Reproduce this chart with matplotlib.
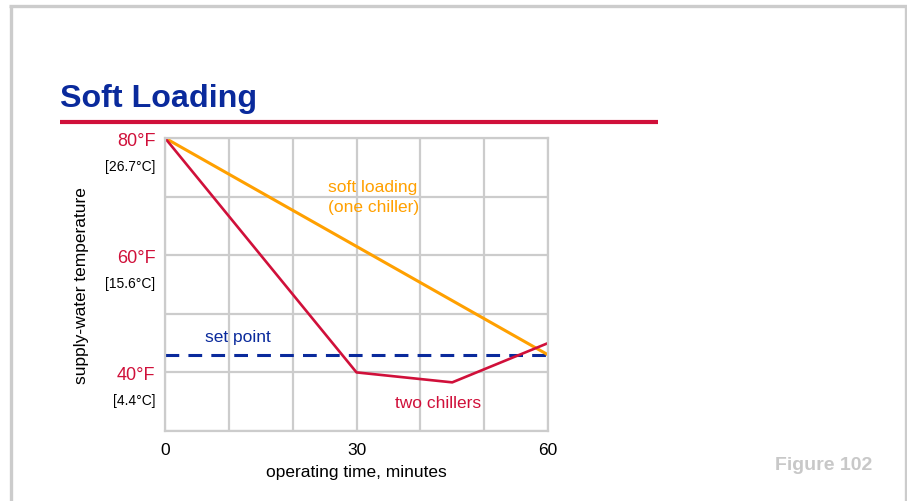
import matplotlib.pyplot as plt
from matplotlib.lines import Line2D

plt.rcParams['font.family'] = ['Liberation Sans', 'DejaVu Sans']

# data
time_min = [0, 60]
soft_loading = [80, 43]
two_time = [0, 30, 45, 60]
two_chillers = [80, 40, 38.3, 45]
set_point = 43

x_ticks = [0, 10, 20, 30, 40, 50, 60]
x_labels = ["0", "", "", "30", "", "", "60"]
y_ticks = [30, 40, 50, 60, 70, 80]
y_labels = ["", "40°F", "", "60°F", "", "80°F"]
c_pos = [40, 60, 80]
c_labels = ["[4.4°C]", "[15.6°C]", "[26.7°C]"]

blue = "#0a2a9c"
red = "#d0103a"
orange = "#ffa000"
gray = "#cccccc"

W, H = 907, 502
fig = plt.figure(figsize=(W / 100, H / 100), dpi=100)

# frame around the page (open at the bottom)
def px(x, y):
    return x / W, 1 - y / H

for (x0, y0), (x1, y1) in [((10.5, H), (10.5, 6.5)), ((9, 6.5), (907, 6.5)), ((905.5, 6.5), (905.5, H))]:
    a, b = px(x0, y0)
    c, d = px(x1, y1)
    fig.add_artist(Line2D([a, c], [b, d], color=gray, lw=2.4, solid_capstyle="butt"))

# title and rule
fig.text(60 / W, 1 - 99 / H, "Soft Loading", color=blue, fontsize=23.2,
         fontweight="bold", ha="left", va="center")
a, b = px(60, 122.5)
c, d = px(658, 122.5)
fig.add_artist(Line2D([a, c], [b, d], color=red, lw=3, solid_capstyle="butt"))

fig.text(872 / W, 1 - 466 / H, "Figure 102", color="#c8c8c8", fontsize=14,
         fontweight="bold", ha="right", va="center")

ax = fig.add_axes([165 / W, 1 - 432 / H, 383 / W, 293 / H])
ax.set_xlim(0, 60)
ax.set_ylim(30, 80)
ax.set_xticks(x_ticks)
ax.set_xticklabels(x_labels)
ax.set_yticks(y_ticks)
ax.set_yticklabels(y_labels)
ax.tick_params(length=0, labelsize=12.5)
ax.tick_params(axis="y", pad=7, labelcolor=red, labelsize=13)
ax.tick_params(axis="x", pad=8)
ax.grid(True, color=gray, lw=1.6)
ax.set_axisbelow(True)
for s in ax.spines.values():
    s.set_color(gray)
    s.set_linewidth(1.6)

for v, lab in zip(c_pos, c_labels):
    ax.annotate(lab, xy=(0, v), xycoords=("axes fraction", "data"),
                xytext=(-7, -20), textcoords="offset points",
                ha="right", va="center", fontsize=10)

ax.axhline(set_point, color=blue, lw=2.2, ls=(0, (4.5, 3)))
ax.plot(time_min, soft_loading, color=orange, lw=2.2, solid_capstyle="round")
ax.plot(two_time, two_chillers, color=red, lw=1.9)

ax.text(25.5, 70.0, "soft loading\n(one chiller)", color=orange, fontsize=12.5,
        ha="left", va="center", linespacing=1.4)
ax.text(6.2, 46.2, "set point", color=blue, fontsize=12.5, ha="left", va="center")
ax.text(36.0, 34.8, "two chillers", color=red, fontsize=12.5, ha="left", va="center")

ax.set_xlabel("operating time, minutes", fontsize=12.5, labelpad=5)
ax.set_ylabel("supply-water temperature", fontsize=12.5, labelpad=20)

fig.savefig("out.png", dpi=100)
